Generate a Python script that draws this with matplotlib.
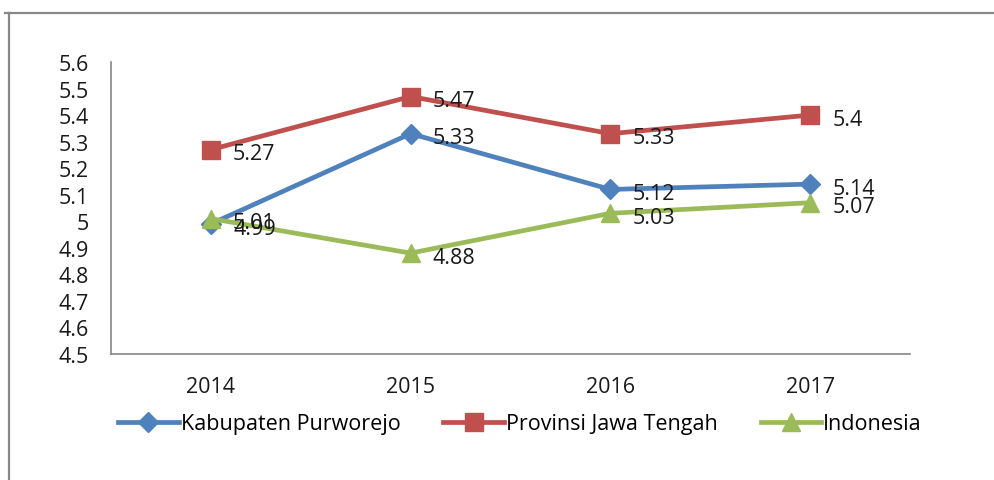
import matplotlib.pyplot as plt
from matplotlib.lines import Line2D

years = ["2014", "2015", "2016", "2017"]
kabupaten = [4.99, 5.33, 5.12, 5.14]
provinsi = [5.27, 5.47, 5.33, 5.4]
indonesia = [5.01, 4.88, 5.03, 5.07]

yticks = [4.5, 4.6, 4.7, 4.8, 4.9, 5.0, 5.1, 5.2, 5.3, 5.4, 5.5, 5.6]
ytick_labels = ["4.5", "4.6", "4.7", "4.8", "4.9", "5", "5.1", "5.2", "5.3", "5.4", "5.5", "5.6"]

series = [
    ("Kabupaten Purworejo", kabupaten, "#4F81BD", "D", 10),
    ("Provinsi Jawa Tengah", provinsi, "#C0504D", "s", 13),
    ("Indonesia", indonesia, "#9BBB59", "^", 13),
]

plt.rcParams["font.family"] = ["Open Sans", "DejaVu Sans"]
FS = 15.5

W, H = 995, 481
fig = plt.figure(figsize=(W / 100, H / 100), dpi=100)
ax = fig.add_axes([111 / W, 1 - 355 / H, (910 - 111) / W, (355 - 63) / H])

x = list(range(len(years)))
for name, vals, color, marker, ms in series:
    ax.plot(x, vals, color=color, linewidth=3.4, marker=marker, markersize=ms,
            label=name, solid_joinstyle="miter")
    for xi, v in zip(x, vals):
        ax.annotate(f"{v:g}", (xi, v), xytext=(16, -3), textcoords="offset points",
                    ha="left", va="center", fontsize=FS, color="#1a1a1a")

ax.set_xlim(-0.5, len(years) - 0.5)
ax.set_ylim(4.5, 5.6)
ax.set_xticks(x)
ax.set_xticklabels(years)
ax.set_yticks(yticks)
ax.set_yticklabels(ytick_labels)
ax.tick_params(axis="both", length=0, labelsize=FS, colors="#1a1a1a")
ax.tick_params(axis="y", pad=16)
ax.tick_params(axis="x", pad=16)
for side in ["top", "right"]:
    ax.spines[side].set_visible(False)
for side in ["left", "bottom"]:
    ax.spines[side].set_color("#868686")
    ax.spines[side].set_linewidth(1.2)

fig.legend(loc="center", bbox_to_anchor=(520 / W, 1 - 425 / H), ncol=3, frameon=False,
           fontsize=FS, handlelength=2.8, handletextpad=0.1, columnspacing=2.0)

# chart border (cropped at right and bottom)
fig.add_artist(Line2D([5 / W, 1], [1 - 14 / H, 1 - 14 / H], color="#888888", linewidth=1.6))
fig.add_artist(Line2D([9 / W, 9 / W], [1 - 14 / H, 0], color="#888888", linewidth=1.6))

fig.savefig("out.png", dpi=100)
